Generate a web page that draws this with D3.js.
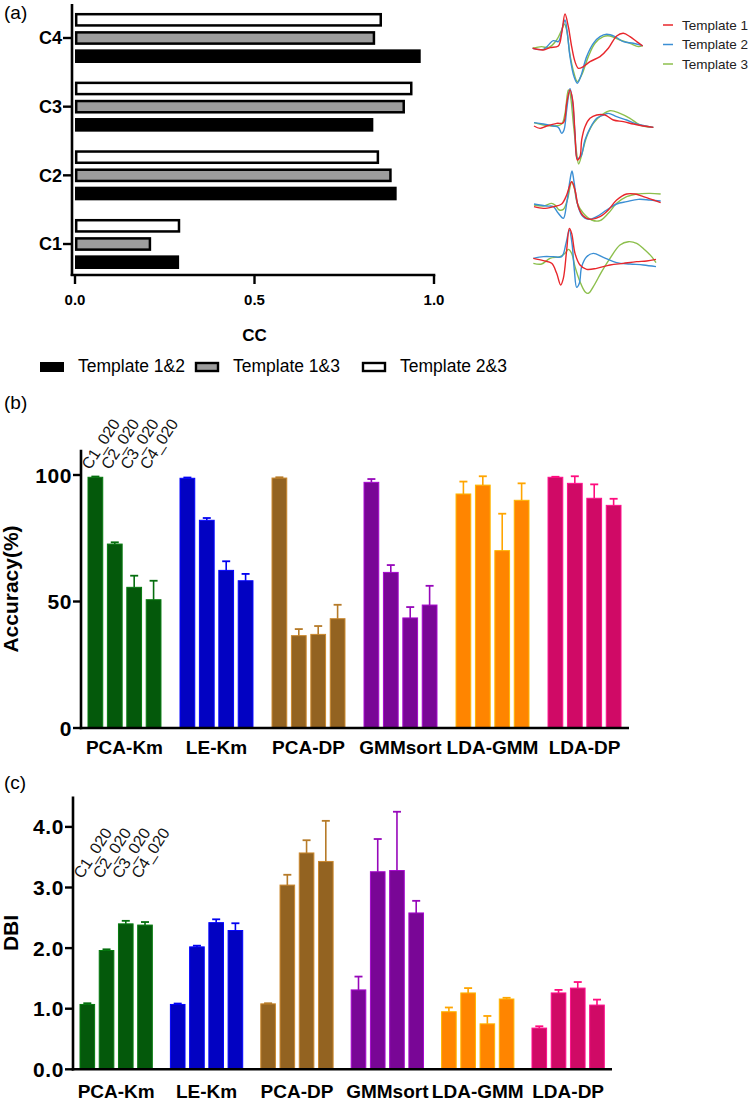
<!DOCTYPE html>
<html>
<head>
<meta charset="utf-8">
<script src="https://cdn.jsdelivr.net/npm/d3@7"></script>
<style>
  body { margin: 0; background: #fff; }
  text { font-family: 'Liberation Sans', Arial, sans-serif; }
</style>
</head>
<body>
<div id="chart"></div>
<script>
// ---- panel (a) data ----
const ccCats = ['C4', 'C3', 'C2', 'C1']
const ccPairs = ['Template 2&3', 'Template 1&3', 'Template 1&2']
const ccT12 = [0.963, 0.831, 0.896, 0.290]
const ccT13 = [0.836, 0.919, 0.882, 0.212]
const ccT23 = [0.855, 0.940, 0.847, 0.293]
const ccTicks = [0, 0.5, 1.0]

// waveform templates, [sample, amplitude], one set per cluster (top to bottom)
const waveC4 = [
  [[38,0],[70,-5],[90,2],[115,7],[125,45],[135,103],[145,65],[155,5],[165,-40],[175,-60],[190,-55],[210,-40],[240,-25],[265,0],[290,37],[310,45],[330,35],[350,20],[368,7]],
  [[38,0],[70,-3],[100,23],[115,20],[128,65],[135,85],[142,45],[150,-25],[162,-85],[172,-105],[182,-85],[200,-25],[220,15],[240,35],[260,42],[285,35],[310,20],[340,15],[368,8]],
  [[38,0],[65,5],[85,2],[110,25],[125,55],[133,73],[140,55],[150,-20],[162,-75],[172,-100],[185,-80],[205,-25],[225,15],[250,35],[270,37],[300,25],[330,15],[355,5],[368,8]]
]
const waveC3 = [
  [[42,-3],[60,-10],[80,-3],[110,5],[130,7],[140,65],[150,105],[158,75],[165,-25],[172,-105],[180,-95],[185,-45],[195,-5],[210,20],[230,30],[255,30],[280,15],[310,10],[340,3],[370,-3],[400,-7]],
  [[42,7],[70,3],[100,-3],[115,-7],[125,-25],[132,-15],[140,45],[150,110],[157,75],[165,-25],[172,-100],[182,-95],[195,-45],[210,-10],[230,20],[250,30],[265,35],[290,25],[320,15],[350,3],[400,-7]],
  [[42,7],[70,0],[100,-3],[125,3],[135,35],[145,105],[150,95],[160,5],[170,-85],[176,-117],[185,-90],[200,-35],[220,5],[245,30],[270,43],[300,35],[330,20],[360,0],[400,-7]]
]
const waveC2 = [
  [[42,-5],[70,-10],[100,-5],[125,3],[140,30],[155,70],[165,45],[175,-5],[190,-33],[210,-43],[240,-35],[265,-15],[290,15],[320,33],[345,33],[370,25],[400,15],[422,7]],
  [[42,3],[80,-3],[100,-5],[115,-25],[130,-40],[140,5],[150,75],[156,102],[162,70],[172,5],[185,-30],[205,-43],[230,-35],[260,-15],[290,3],[320,10],[355,17],[390,15],[422,12]],
  [[42,0],[70,-3],[95,5],[105,0],[118,-15],[130,-13],[142,15],[155,70],[162,55],[172,5],[190,-25],[215,-45],[240,-47],[265,-25],[290,5],[320,25],[350,33],[390,35],[422,33]]
]
const waveC1 = [
  [[40,5],[70,-2],[95,-10],[110,-40],[122,-75],[130,-55],[140,30],[148,95],[155,80],[165,20],[180,-15],[200,-28],[230,-25],[270,-15],[310,-10],[350,-5],[380,-3],[408,2]],
  [[40,5],[70,10],[100,10],[125,10],[138,50],[148,90],[156,50],[163,-30],[170,-82],[178,-70],[185,-20],[200,10],[220,20],[250,8],[290,-8],[330,-12],[370,-15],[408,-20]],
  [[40,-10],[65,-12],[90,5],[120,10],[135,20],[145,32],[155,20],[165,-20],[180,-65],[195,-95],[205,-100],[220,-80],[245,-35],[270,5],[300,45],[325,55],[350,50],[375,30],[395,10],[408,-8]]
]
const templateNames = ['Template 1', 'Template 2', 'Template 3']

// ---- panels (b), (c) data ----
const methods = ['PCA-Km', 'LE-Km', 'PCA-DP', 'GMMsort', 'LDA-GMM', 'LDA-DP']
const datasets = ['C1_020', 'C2_020', 'C3_020', 'C4_020']
const accMean = [[99.1, 72.7, 55.6, 50.7], [98.7, 82.1, 62.3, 58.2], [98.8, 36.5, 37.0, 43.2],
  [97.1, 61.5, 43.5, 48.6], [92.5, 96.0, 70.1, 90.0], [99.1, 96.7, 90.8, 88.0]]
const accErr = [[0.3, 0.7, 4.6, 7.5], [0.3, 0.9, 3.6, 2.7], [0.3, 2.6, 3.3, 5.5],
  [1.3, 2.9, 4.3, 7.6], [4.9, 3.5, 14.6, 6.7], [0.2, 2.8, 5.5, 2.6]]
const accTicks = [0, 50, 100]
const dbiMean = [[1.07, 1.96, 2.40, 2.38], [1.07, 2.02, 2.42, 2.29], [1.08, 3.04, 3.57, 3.43],
  [1.31, 3.26, 3.28, 2.58], [0.95, 1.26, 0.75, 1.16], [0.68, 1.26, 1.34, 1.06]]
const dbiErr = [[0.02, 0.02, 0.05, 0.05], [0.015, 0.02, 0.055, 0.12], [0.01, 0.17, 0.21, 0.67],
  [0.22, 0.54, 0.97, 0.20], [0.07, 0.08, 0.13, 0.02], [0.03, 0.05, 0.10, 0.09]]
const dbiTicks = [0, 1, 2, 3, 4]

const methodColors = ['#04590b', '#0202c2', '#936321', '#790696', '#ff8500', '#d00a66']
const waveColors = ['#e8262b', '#3b8fd4', '#8cbf4c']
const pairFill = { 'Template 1&2': '#000000', 'Template 1&3': '#9d9d9d', 'Template 2&3': '#ffffff' }

const svg = d3.select('#chart').append('svg')
  .attr('width', 752)
  .attr('height', 1101)

function panelLabel (txt, x, y) {
  svg.append('text').attr('x', x).attr('y', y)
    .attr('font-size', '19px').text(txt)
}

// ================= panel (a) =================
panelLabel('(a)', 4, 19)

const xa = d3.scaleLinear().domain([0, 1]).range([75, 434])
const ya = d3.scaleBand().domain(ccCats).range([13, 269]).paddingInner(0.272)
const yaInner = d3.scaleBand().domain(ccPairs).range([0, ya.bandwidth()]).paddingInner(0.25)

const ccRows = ccCats.map((c, i) => ({
  cat: c,
  vals: [
    { pair: 'Template 2&3', v: ccT23[i] },
    { pair: 'Template 1&3', v: ccT13[i] },
    { pair: 'Template 1&2', v: ccT12[i] }
  ]
}))

const ga = svg.append('g')
ga.selectAll('g.cc').data(ccRows).join('g')
  .attr('class', 'cc')
  .attr('transform', d => `translate(0,${ya(d.cat)})`)
  .selectAll('rect').data(d => d.vals).join('rect')
  .attr('x', d => xa(0) + (d.pair === 'Template 1&2' ? 0 : 1.2))
  .attr('y', d => yaInner(d.pair) + (d.pair === 'Template 1&2' ? 0 : 1.2))
  .attr('width', d => xa(d.v) - xa(0) - (d.pair === 'Template 1&2' ? 0 : 2.4))
  .attr('height', d => yaInner.bandwidth() - (d.pair === 'Template 1&2' ? 0 : 2.4))
  .attr('fill', d => pairFill[d.pair])
  .attr('stroke', '#000')
  .attr('stroke-width', d => d.pair === 'Template 1&2' ? 0 : 2.5)

// axes of (a)
const axY = xa(0) - 3
ga.append('line').attr('x1', axY).attr('x2', axY).attr('y1', 4).attr('y2', 276)
  .attr('stroke', '#000').attr('stroke-width', 2.6)
ga.append('line').attr('x1', axY - 1.3).attr('x2', xa(1) + 1.3).attr('y1', 275).attr('y2', 275)
  .attr('stroke', '#000').attr('stroke-width', 2.6)
ccTicks.forEach(t => {
  ga.append('line').attr('x1', xa(t)).attr('x2', xa(t)).attr('y1', 275).attr('y2', 284)
    .attr('stroke', '#000').attr('stroke-width', 2.4)
  ga.append('text').attr('x', xa(t)).attr('y', 305).attr('text-anchor', 'middle')
    .attr('font-size', '15px').attr('font-weight', 'bold').text(d3.format('.1f')(t))
})
ccCats.forEach(c => {
  const yy = ya(c) + yaInner('Template 1&3') + yaInner.bandwidth() / 2
  ga.append('line').attr('x1', axY - 9).attr('x2', axY).attr('y1', yy).attr('y2', yy)
    .attr('stroke', '#000').attr('stroke-width', 2.4)
  ga.append('text').attr('x', axY - 10).attr('y', yy).attr('dy', '0.36em')
    .attr('text-anchor', 'end').attr('font-size', '18px').attr('font-weight', 'bold').text(c)
})
ga.append('text').attr('x', xa(0.5)).attr('y', 341).attr('text-anchor', 'middle')
  .attr('font-size', '17px').attr('font-weight', 'bold').text('CC')

// legend of (a)
const legA = [
  { pair: 'Template 1&2', x: 40 },
  { pair: 'Template 1&3', x: 195 },
  { pair: 'Template 2&3', x: 362 }
]
legA.forEach(l => {
  const solid = l.pair === 'Template 1&2'
  svg.append('rect').attr('x', l.x + (solid ? 0 : 1)).attr('y', 362 + (solid ? 0 : 1))
    .attr('width', solid ? 24 : 22).attr('height', solid ? 10 : 8)
    .attr('fill', pairFill[l.pair]).attr('stroke', '#000').attr('stroke-width', solid ? 0 : 2.4)
  svg.append('text').attr('x', l.x + 38).attr('y', 372).attr('font-size', '17.5px').text(l.pair)
})

// waveforms
const xw = d3.scaleLinear().domain([0, 420]).range([520, 660])
const waveSets = [waveC4, waveC3, waveC2, waveC1]
const waveBase = [48.3, 125, 205, 260]
waveSets.forEach((set, gi) => {
  const yw = d3.scaleLinear().domain([-100, 100]).range([waveBase[gi] + 33.3, waveBase[gi] - 33.3])
  const line = d3.line().x(d => xw(d[0])).y(d => yw(d[1])).curve(d3.curveCatmullRom)
  // draw green, blue, red (red on top)
  ;[2, 1, 0].forEach(k => {
    svg.append('path').attr('d', line(set[k])).attr('fill', 'none')
      .attr('stroke', waveColors[k]).attr('stroke-width', 1.4)
  })
})
templateNames.forEach((n, i) => {
  const yy = 25 + i * 19.5
  svg.append('line').attr('x1', 663).attr('x2', 673).attr('y1', yy).attr('y2', yy)
    .attr('stroke', waveColors[i]).attr('stroke-width', 1.5)
  svg.append('text').attr('x', 682).attr('y', yy).attr('dy', '0.36em')
    .attr('font-size', '13.5px').attr('fill', '#222').text(n)
})

// ================= bar panels =================
function barPanel (opt) {
  const g = svg.append('g')
  const y = d3.scaleLinear().domain(opt.domain).range(opt.yRange)
  const xg = d3.scaleBand().domain(methods).range(opt.xRange).paddingInner(opt.pad)
  const xi = d3.scaleBand().domain(datasets).range([0, xg.bandwidth()]).paddingInner(0.24)

  const rows = methods.map((m, i) => ({
    m: m,
    c: methodColors[i],
    vals: datasets.map((d, j) => ({ d: d, v: opt.mean[i][j], e: opt.err[i][j], c: methodColors[i] }))
  }))

  const grp = g.selectAll('g.m').data(rows).join('g')
    .attr('class', 'm')
    .attr('transform', d => `translate(${xg(d.m)},0)`)

  grp.selectAll('rect').data(d => d.vals).join('rect')
    .attr('x', d => xi(d.d))
    .attr('y', d => y(d.v))
    .attr('width', xi.bandwidth())
    .attr('height', d => y(0) - y(d.v))
    .attr('fill', d => d.c)
    .attr('stroke', d => d3.color(d.c).brighter(0.9))
    .attr('stroke-width', 1)

  // error bars (upper only)
  const eb = grp.selectAll('g.eb').data(d => d.vals).join('g').attr('class', 'eb')
  eb.append('line')
    .attr('x1', d => xi(d.d) + xi.bandwidth() / 2).attr('x2', d => xi(d.d) + xi.bandwidth() / 2)
    .attr('y1', d => y(d.v)).attr('y2', d => y(d.v + d.e))
    .attr('stroke', d => d3.color(d.c).brighter(0.6)).attr('stroke-width', 1.6)
  eb.append('line')
    .attr('x1', d => xi(d.d) + xi.bandwidth() / 2 - 4).attr('x2', d => xi(d.d) + xi.bandwidth() / 2 + 4)
    .attr('y1', d => y(d.v + d.e)).attr('y2', d => y(d.v + d.e))
    .attr('stroke', d => d3.color(d.c).brighter(0.6)).attr('stroke-width', 1.8)

  // axes
  g.append('line').attr('x1', opt.axX).attr('x2', opt.axX)
    .attr('y1', y(opt.domain[1])).attr('y2', y(0) + 1.3)
    .attr('stroke', '#000').attr('stroke-width', 2.6)
  g.append('line').attr('x1', opt.axX - 1.3).attr('x2', opt.xEnd)
    .attr('y1', y(0)).attr('y2', y(0))
    .attr('stroke', '#000').attr('stroke-width', 2.6)
  opt.ticks.forEach(t => {
    g.append('line').attr('x1', opt.axX - 8).attr('x2', opt.axX).attr('y1', y(t)).attr('y2', y(t))
      .attr('stroke', '#000').attr('stroke-width', 2.4)
    g.append('text').attr('x', opt.axX - 9).attr('y', y(t)).attr('dy', '0.36em')
      .attr('text-anchor', 'end').attr('font-size', '21px').attr('font-weight', 'bold')
      .attr('letter-spacing', '0.6px')
      .text(opt.fmt(t))
  })
  methods.forEach(m => {
    g.append('text').attr('x', xg(m) + xg.bandwidth() / 2).attr('y', opt.catY)
      .attr('text-anchor', 'middle').attr('font-size', '19px').attr('font-weight', 'bold').text(m)
  })
  // rotated dataset names above the first group
  datasets.forEach(d => {
    const lx = xg(methods[0]) + xi(d) + 2
    const ly = y(opt.labelV)
    g.append('text').attr('transform', `translate(${lx},${ly}) rotate(-57)`)
      .attr('font-size', '16px').attr('fill', '#111').text(d)
  })
  g.append('text').attr('transform', `translate(${opt.titleX},${opt.titleY}) rotate(-90)`)
    .attr('text-anchor', 'middle').attr('font-size', '21px').attr('font-weight', 'bold')
    .text(opt.title)
}

panelLabel('(b)', 4, 409)
barPanel({
  domain: [0, 110],
  yRange: [728, 728 - 253 * 1.1],
  xRange: [88, 621],
  pad: 0.207,
  axX: 81,
  xEnd: 629,
  mean: accMean,
  err: accErr,
  ticks: accTicks,
  fmt: d3.format('d'),
  catY: 754,
  labelV: 101.8,
  title: 'Accuracy(%)',
  titleX: 18,
  titleY: 589
})

panelLabel('(c)', 4, 789)
barPanel({
  domain: [0, 4.5],
  yRange: [1069.3, 1069.3 - 60.6 * 4.5],
  xRange: [80, 604.3],
  pad: 0.2,
  axX: 73,
  xEnd: 612,
  mean: dbiMean,
  err: dbiErr,
  ticks: dbiTicks,
  fmt: d3.format('.1f'),
  catY: 1098,
  labelV: 3.13,
  title: 'DBI',
  titleX: 18,
  titleY: 933
})
</script>
</body>
</html>
